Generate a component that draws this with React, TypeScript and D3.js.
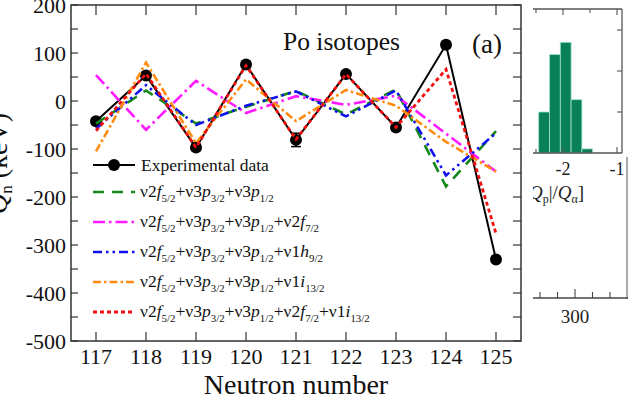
import React from "react";
import * as d3 from "d3";

const neutronNumbers = [117, 118, 119, 120, 121, 122, 123, 124, 125];
const expData = [-42, 53, -97, 76, -81, 56, -55, 117, -330];
const expErr = [6, 6, 6, 6, 14, 6, 6, 6, 6];
const greenData = [-47, 22, -47, -12, 21, -28, 24, -178, -63];
const magentaData = [54, -60, 42, -25, 10, -8, 11, -68, -147];
const blueData = [-58, 33, -50, -10, 20, -32, 22, -155, -67];
const orangeData = [-105, 80, -88, 45, -42, 23, -10, -85, -147];
const redData = [-62, 57, -97, 74, -80, 56, -55, 66, -276];

const yTickValues = [-500, -400, -300, -200, -100, 0, 100, 200];
const legendLabels = [
  "Experimental data",
  "ν2f_{5/2}+ν3p_{3/2}+ν3p_{1/2}",
  "ν2f_{5/2}+ν3p_{3/2}+ν3p_{1/2}+ν2f_{7/2}",
  "ν2f_{5/2}+ν3p_{3/2}+ν3p_{1/2}+ν1h_{9/2}",
  "ν2f_{5/2}+ν3p_{3/2}+ν3p_{1/2}+ν1i_{13/2}",
  "ν2f_{5/2}+ν3p_{3/2}+ν3p_{1/2}+ν2f_{7/2}+ν1i_{13/2}",
];

const histEdges = [-2.45, -2.25, -2.05, -1.85, -1.65, -1.45];
const histCounts = [10, 24, 27, 13, 1];
const insetXTicks = [-2.5, -2, -1.5, -1];
const insetXLabels = [-2, -1];
const insetYTicks = [10, 20, 30];
const lowerTicks = [260, 280, 300, 320, 340];

const FONT = "'Liberation Serif'";
const fs = (size: number, extra: React.CSSProperties = {}): React.CSSProperties => ({
  fontFamily: FONT,
  fontSize: size,
  ...extra,
});

function parseLabel(s: string) {
  const parts: { t: string; it?: boolean; sub?: boolean }[] = [];
  const re = /([a-z])_\{([^}]+)\}/g;
  let last = 0;
  let m: RegExpExecArray | null;
  while ((m = re.exec(s)) !== null) {
    if (m.index > last) parts.push({ t: s.slice(last, m.index) });
    parts.push({ t: m[1], it: true });
    parts.push({ t: m[2], sub: true });
    last = m.index + m[0].length;
  }
  if (last < s.length) parts.push({ t: s.slice(last) });
  return parts;
}

function RichText({ x, y, label, size }: { x: number; y: number; label: string; size: number }) {
  const parts = parseLabel(label);
  const subShift = 5;
  let inSub = false;
  return (
    <text x={x} y={y} style={fs(size)} fill="#111">
      {parts.map((p, i) => {
        let dy = 0;
        if (p.sub && !inSub) {
          dy = subShift;
          inSub = true;
        } else if (!p.sub && inSub) {
          dy = -subShift;
          inSub = false;
        }
        return (
          <tspan
            key={i}
            dy={dy}
            style={fs(p.sub ? size * 0.62 : size, { fontStyle: p.it ? "italic" : "normal" })}
          >
            {p.t}
          </tspan>
        );
      })}
    </text>
  );
}

export default function App() {
  const W = 632;
  const H = 403;
  const x = d3.scaleLinear().domain([116.5, 125.5]).range([71, 521]);
  const y = d3.scaleLinear().domain([-500, 200]).range([341, 5]);
  const line = d3
    .line<number>()
    .x((_, i) => x(neutronNumbers[i]))
    .y((d) => y(d));

  const series = [
    { data: greenData, color: "#13891a", dash: "11,8", w: 2.6 },
    { data: magentaData, color: "#ff1aff", dash: "12,4,2.5,4", w: 2.6 },
    { data: blueData, color: "#1010ee", dash: "9,4,2.5,4,2.5,4", w: 2.6 },
    { data: orangeData, color: "#ff8c10", dash: "8,3,2.5,3", w: 2.6 },
    { data: redData, color: "#f01010", dash: "4,3", w: 2.8 },
  ];

  const minorY = d3.range(-500, 201, 50);

  const ix = d3.scaleLinear().domain([-2, -1]).range([563, 617]);
  const iy = d3.scaleLinear().domain([0, 10]).range([153, 112]);
  const lx = d3.scaleLinear().domain([300, 320]).range([575, 592.5]);

  const legendY = [165, 192, 222, 252, 282, 312];

  return (
    <svg width={W} height={H} style={{ position: "absolute", left: 0, top: 0, background: "#fff" }}>
      <defs>
        <clipPath id="insetClip">
          <rect x={533} y={0} width={100} height={H} />
        </clipPath>
      </defs>
      <rect x={0} y={0} width={W} height={H} fill="#fff" />

      {/* y axis label, mostly cut off at the left edge as in the reference */}
      <text transform={`translate(7,214) rotate(-90)`} style={fs(28)} fill="#111">
        <tspan style={fs(28, { fontStyle: "italic" })}>Q</tspan>
        <tspan style={fs(17)} dy={5}>n</tspan>
        <tspan dy={-5}> (keV)</tspan>
      </text>

      <rect x={71} y={5} width={450} height={336} fill="none" stroke="#333" strokeWidth={1.5} />

      {minorY.map((v) => (
        <g key={v}>
          <line x1={71} x2={78} y1={y(v)} y2={y(v)} stroke="#333" strokeWidth={1.2} />
          <line x1={521} x2={513} y1={y(v)} y2={y(v)} stroke="#333" strokeWidth={1.2} />
        </g>
      ))}
      {yTickValues.map((v) => (
        <text key={v} x={66} y={y(v)} dy="0.35em" textAnchor="end" style={fs(22)} fill="#111">
          {v < 0 ? `-${Math.abs(v)}` : v}
        </text>
      ))}

      {neutronNumbers.map((n) => (
        <g key={n}>
          <line x1={x(n)} x2={x(n)} y1={5} y2={15} stroke="#333" strokeWidth={1.2} />
          <line x1={x(n)} x2={x(n)} y1={341} y2={332} stroke="#333" strokeWidth={1.2} />
          <text x={x(n)} y={364} textAnchor="middle" style={fs(22)} fill="#111">
            {n}
          </text>
        </g>
      ))}
      <text x={296} y={394} textAnchor="middle" style={fs(28)} fill="#111">
        Neutron number
      </text>

      <text x={283} y={50} style={fs(25.5)} fill="#111">
        Po isotopes
      </text>
      <text x={472} y={53} style={fs(27)} fill="#111">
        (a)
      </text>

      <path d={line(expData) || ""} fill="none" stroke="#000" strokeWidth={2} />
      {expData.map((v, i) => (
        <g key={i}>
          <line
            x1={x(neutronNumbers[i])}
            x2={x(neutronNumbers[i])}
            y1={y(v - expErr[i])}
            y2={y(v + expErr[i])}
            stroke="#000"
            strokeWidth={1.5}
          />
          <line
            x1={x(neutronNumbers[i]) - 5}
            x2={x(neutronNumbers[i]) + 5}
            y1={y(v - expErr[i])}
            y2={y(v - expErr[i])}
            stroke="#000"
            strokeWidth={1.5}
          />
          <line
            x1={x(neutronNumbers[i]) - 5}
            x2={x(neutronNumbers[i]) + 5}
            y1={y(v + expErr[i])}
            y2={y(v + expErr[i])}
            stroke="#000"
            strokeWidth={1.5}
          />
          <circle cx={x(neutronNumbers[i])} cy={y(v)} r={6} fill="#000" />
        </g>
      ))}

      {series.map((s, k) => (
        <path
          key={k}
          d={line(s.data) || ""}
          fill="none"
          stroke={s.color}
          strokeWidth={s.w}
          strokeDasharray={s.dash}
        />
      ))}

      <line x1={93} x2={135} y1={legendY[0]} y2={legendY[0]} stroke="#000" strokeWidth={2} />
      <circle cx={114} cy={legendY[0]} r={6} fill="#000" />
      <text x={141} y={legendY[0]} dy="0.35em" style={fs(17.5)} fill="#111">
        {legendLabels[0]}
      </text>
      {series.map((s, k) => (
        <g key={k}>
          <line
            x1={93}
            x2={k === 3 ? 137 : 135}
            y1={legendY[k + 1]}
            y2={legendY[k + 1]}
            stroke={s.color}
            strokeWidth={s.w}
            strokeDasharray={s.dash}
          />
          <RichText x={140} y={legendY[k + 1] + 5} label={legendLabels[k + 1]} size={17.5} />
        </g>
      ))}

      <g clipPath="url(#insetClip)">
        {histCounts.map((c, i) => (
          <rect
            key={i}
            x={ix(histEdges[i])}
            y={iy(c)}
            width={ix(histEdges[i + 1]) - ix(histEdges[i])}
            height={iy(0) - iy(c)}
            fill="#0a8058"
            stroke="#9fe3c8"
            strokeWidth={0.8}
          />
        ))}
        <line x1={530} x2={622} y1={9} y2={9} stroke="#555" strokeWidth={1.3} />
        <line x1={622} x2={622} y1={9} y2={153} stroke="#555" strokeWidth={1.3} />
        <line x1={530} x2={622} y1={153} y2={153} stroke="#555" strokeWidth={1.3} />
        {insetXTicks.map((t) => (
          <g key={t}>
            <line
              x1={ix(t)}
              x2={ix(t)}
              y1={9}
              y2={Number.isInteger(t) ? 15 : 13}
              stroke="#555"
              strokeWidth={1.1}
            />
            <line
              x1={ix(t)}
              x2={ix(t)}
              y1={153}
              y2={Number.isInteger(t) ? 147 : 149}
              stroke="#555"
              strokeWidth={1.1}
            />
          </g>
        ))}
        {insetYTicks.map((t) => (
          <line key={t} x1={622} x2={617} y1={iy(t)} y2={iy(t)} stroke="#555" strokeWidth={1.1} />
        ))}
        {insetXLabels.map((t) => (
          <text key={t} x={ix(t)} y={175} textAnchor="middle" style={fs(18)} fill="#222">
            {`-${Math.abs(t)}`}
          </text>
        ))}
        <text x={529} y={199} style={fs(19)} fill="#222">
          <tspan style={fs(19, { fontStyle: "italic" })}>Q</tspan>
          <tspan style={fs(12)} dy={4}>p</tspan>
          <tspan dy={-4}>|/</tspan>
          <tspan style={fs(19, { fontStyle: "italic" })}>Q</tspan>
          <tspan style={fs(12)} dy={4}>α</tspan>
          <tspan dy={-4}>]</tspan>
        </text>
        <line x1={627} x2={627} y1={157} y2={299} stroke="#aaa" strokeWidth={2} />
        <line x1={530} x2={628} y1={298} y2={298} stroke="#444" strokeWidth={1.3} />
        {lowerTicks.map((t) => (
          <line
            key={t}
            x1={lx(t)}
            x2={lx(t)}
            y1={298}
            y2={t === 300 ? 289 : 292}
            stroke="#444"
            strokeWidth={1.1}
          />
        ))}
        <text x={lx(300)} y={323} textAnchor="middle" style={fs(19)} fill="#222">
          300
        </text>
      </g>
    </svg>
  );
}
